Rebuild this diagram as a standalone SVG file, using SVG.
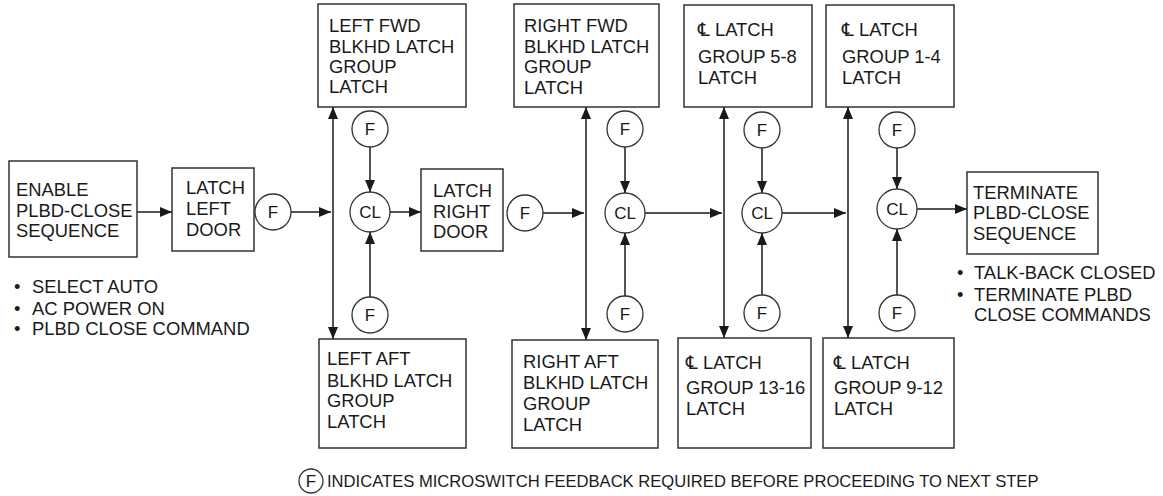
<svg xmlns="http://www.w3.org/2000/svg" width="1163" height="496" viewBox="0 0 1163 496">
<defs>
<marker id="ah" viewBox="0 0 12 10" refX="12" refY="5" markerWidth="12" markerHeight="10" markerUnits="userSpaceOnUse" orient="auto">
<path d="M0,0 L12,5 L0,10 Z" fill="#1a1a1a"/>
</marker>
<marker id="ahs" viewBox="0 0 12 10" refX="0" refY="5" markerWidth="12" markerHeight="10" markerUnits="userSpaceOnUse" orient="auto">
<path d="M12,0 L0,5 L12,10 Z" fill="#1a1a1a"/>
</marker>
<style>
.box{fill:#fff;stroke:#333;stroke-width:1.5}
.circ{fill:#fff;stroke:#333;stroke-width:1.3}
.t{font-family:"Liberation Sans","DejaVu Sans",Arial,sans-serif;font-size:18.4px;fill:#1a1a1a}
.c{font-family:"Liberation Sans","DejaVu Sans",Arial,sans-serif;font-size:17px;fill:#1a1a1a;text-anchor:middle}
.ln{fill:none;stroke:#1a1a1a;stroke-width:1.5;marker-end:url(#ah)}
.dl{fill:none;stroke:#1a1a1a;stroke-width:1.5;marker-end:url(#ah);marker-start:url(#ahs)}
</style>
</defs>
<rect width="1163" height="496" fill="#fff"/>

<g id="connectors">
<line class="ln" x1="137" y1="212" x2="172" y2="212"/>
<line class="ln" x1="291" y1="212" x2="331" y2="212"/>
<line class="dl" x1="333" y1="107" x2="333" y2="339"/>
<line class="ln" x1="370" y1="147" x2="370" y2="192"/>
<line class="ln" x1="370" y1="297" x2="370" y2="232"/>
<line class="ln" x1="390" y1="212" x2="421" y2="212"/>
<line class="ln" x1="543" y1="213" x2="584" y2="213"/>
<line class="dl" x1="586" y1="107" x2="586" y2="340"/>
<line class="ln" x1="625" y1="147" x2="625" y2="193"/>
<line class="ln" x1="625" y1="296" x2="625" y2="233"/>
<line class="ln" x1="645" y1="213" x2="722" y2="213"/>
<line class="dl" x1="724" y1="107" x2="724" y2="338"/>
<line class="ln" x1="762" y1="148" x2="762" y2="193"/>
<line class="ln" x1="762" y1="295" x2="762" y2="233"/>
<line class="ln" x1="782" y1="213" x2="846" y2="213"/>
<line class="dl" x1="848" y1="107" x2="848" y2="338"/>
<line class="ln" x1="897" y1="148" x2="897" y2="189"/>
<line class="ln" x1="897" y1="295" x2="897" y2="229"/>
<line class="ln" x1="917" y1="209" x2="967" y2="209"/>
</g>

<g id="enable">
<rect class="box" x="9" y="161" width="128" height="96"/>
<text class="t" x="16"><tspan x="16" y="196">ENABLE</tspan><tspan x="16" y="217">PLBD-CLOSE</tspan><tspan x="16" y="237">SEQUENCE</tspan></text>
</g>
<g id="enable-notes">
<text class="t"><tspan x="14" y="293">•</tspan><tspan x="32" y="293">SELECT AUTO</tspan><tspan x="14" y="315">•</tspan><tspan x="32" y="315">AC POWER ON</tspan><tspan x="14" y="335">•</tspan><tspan x="32" y="335">PLBD CLOSE COMMAND</tspan></text>
</g>
<g id="latch-left-door">
<rect class="box" x="172" y="168" width="82" height="83"/>
<text class="t"><tspan x="186" y="194">LATCH</tspan><tspan x="186" y="215">LEFT</tspan><tspan x="186" y="236">DOOR</tspan></text>
</g>
<g id="f1"><circle class="circ" cx="273" cy="212" r="18"/><text class="c" x="273" y="218">F</text></g>

<g id="left-fwd">
<rect class="box" x="318" y="4" width="148" height="103"/>
<text class="t"><tspan x="329" y="32">LEFT FWD</tspan><tspan x="329" y="53">BLKHD LATCH</tspan><tspan x="329" y="73">GROUP</tspan><tspan x="329" y="93">LATCH</tspan></text>
</g>
<g id="left-aft">
<rect class="box" x="319" y="339" width="147" height="109"/>
<text class="t"><tspan x="327" y="365">LEFT AFT</tspan><tspan x="327" y="387">BLKHD LATCH</tspan><tspan x="327" y="407">GROUP</tspan><tspan x="327" y="428">LATCH</tspan></text>
</g>
<g id="f2t"><circle class="circ" cx="370" cy="129" r="18"/><text class="c" x="370" y="135">F</text></g>
<g id="cl1"><circle class="circ" cx="370" cy="212" r="20"/><text class="c" x="370" y="218">CL</text></g>
<g id="f2b"><circle class="circ" cx="370" cy="315" r="18"/><text class="c" x="370" y="321">F</text></g>

<g id="latch-right-door">
<rect class="box" x="421" y="169" width="82" height="82"/>
<text class="t"><tspan x="433" y="197">LATCH</tspan><tspan x="433" y="218">RIGHT</tspan><tspan x="433" y="238">DOOR</tspan></text>
</g>
<g id="f3"><circle class="circ" cx="525" cy="213" r="18"/><text class="c" x="525" y="219">F</text></g>

<g id="right-fwd">
<rect class="box" x="514" y="4" width="145" height="103"/>
<text class="t"><tspan x="524" y="32">RIGHT FWD</tspan><tspan x="524" y="53">BLKHD LATCH</tspan><tspan x="524" y="73">GROUP</tspan><tspan x="524" y="94">LATCH</tspan></text>
</g>
<g id="right-aft">
<rect class="box" x="512" y="340" width="146" height="108"/>
<text class="t"><tspan x="523" y="368">RIGHT AFT</tspan><tspan x="523" y="389">BLKHD LATCH</tspan><tspan x="523" y="410">GROUP</tspan><tspan x="523" y="431">LATCH</tspan></text>
</g>
<g id="f4t"><circle class="circ" cx="625" cy="129" r="18"/><text class="c" x="625" y="135">F</text></g>
<g id="cl2"><circle class="circ" cx="625" cy="213" r="20"/><text class="c" x="625" y="219">CL</text></g>
<g id="f4b"><circle class="circ" cx="625" cy="314" r="18"/><text class="c" x="625" y="320">F</text></g>

<g id="cl-group-5-8">
<rect class="box" x="684" y="5" width="128" height="102"/>
<text class="t"><tspan x="698" y="36">℄ LATCH</tspan><tspan x="698" y="63">GROUP 5-8</tspan><tspan x="698" y="84">LATCH</tspan></text>
</g>
<g id="cl-group-13-16">
<rect class="box" x="678" y="338" width="133" height="110"/>
<text class="t"><tspan x="686" y="369">℄ LATCH</tspan><tspan x="686" y="394">GROUP 13-16</tspan><tspan x="686" y="415">LATCH</tspan></text>
</g>
<g id="f5t"><circle class="circ" cx="762" cy="130" r="18"/><text class="c" x="762" y="136">F</text></g>
<g id="cl3"><circle class="circ" cx="762" cy="213" r="20"/><text class="c" x="762" y="219">CL</text></g>
<g id="f5b"><circle class="circ" cx="762" cy="313" r="18"/><text class="c" x="762" y="319">F</text></g>

<g id="cl-group-1-4">
<rect class="box" x="826" y="5" width="128" height="102"/>
<text class="t"><tspan x="842" y="36">℄ LATCH</tspan><tspan x="842" y="63">GROUP 1-4</tspan><tspan x="842" y="84">LATCH</tspan></text>
</g>
<g id="cl-group-9-12">
<rect class="box" x="823" y="338" width="131" height="110"/>
<text class="t"><tspan x="834" y="369">℄ LATCH</tspan><tspan x="834" y="394">GROUP 9-12</tspan><tspan x="834" y="415">LATCH</tspan></text>
</g>
<g id="f6t"><circle class="circ" cx="897" cy="130" r="18"/><text class="c" x="897" y="136">F</text></g>
<g id="cl4"><circle class="circ" cx="897" cy="209" r="20"/><text class="c" x="897" y="215">CL</text></g>
<g id="f6b"><circle class="circ" cx="897" cy="313" r="18"/><text class="c" x="897" y="319">F</text></g>

<g id="terminate">
<rect class="box" x="967" y="172" width="131" height="82"/>
<text class="t"><tspan x="973" y="199">TERMINATE</tspan><tspan x="973" y="219">PLBD-CLOSE</tspan><tspan x="973" y="240">SEQUENCE</tspan></text>
</g>
<g id="terminate-notes">
<text class="t"><tspan x="957" y="279">•</tspan><tspan x="974" y="279">TALK-BACK CLOSED</tspan><tspan x="957" y="301">•</tspan><tspan x="974" y="301">TERMINATE PLBD</tspan><tspan x="974" y="321">CLOSE COMMANDS</tspan></text>
</g>

<g id="legend">
<circle class="circ" cx="311" cy="481" r="12"/>
<text class="c" x="311" y="487">F</text>
<text class="t" x="327" y="487" style="font-size:16.6px">INDICATES MICROSWITCH FEEDBACK REQUIRED BEFORE PROCEEDING TO NEXT STEP</text>
</g>
</svg>
